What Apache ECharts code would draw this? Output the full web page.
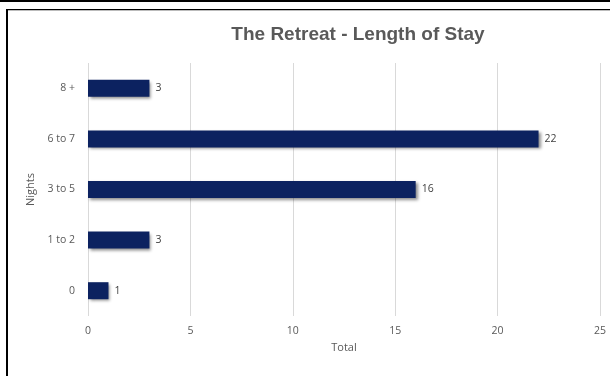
<!DOCTYPE html>
<html><head><meta charset="utf-8">
<script src="https://cdn.jsdelivr.net/npm/echarts@6/dist/echarts.min.js"></script>
<style>html,body{margin:0;padding:0;background:#fff}#c{width:610px;height:376px}</style>
</head><body><div id="c"></div>
<script>
var categories = ['0', '1 to 2', '3 to 5', '6 to 7', '8 +'];
var values = [1, 3, 16, 22, 3];
var xTicks = [0, 5, 10, 15, 20, 25];
var titleText = 'The Retreat - Length of Stay';
var xName = 'Total';
var yName = 'Nights';

var chart = echarts.init(document.getElementById('c'));
chart.setOption({
  animation: false,
  backgroundColor: '#fff',
  title: {
    text: titleText, left: 353, top: 20, textAlign: 'center',
    textStyle: {fontFamily: 'Liberation Sans', fontWeight: 'bold', fontSize: 19, color: '#595959'}
  },
  graphic: [
    {type: 'rect', shape: {x: 0, y: 0, width: 610, height: 2}, style: {fill: '#000'}},
    {type: 'rect', shape: {x: 6, y: 9, width: 604, height: 1}, style: {fill: '#000'}},
    {type: 'rect', shape: {x: 6, y: 10, width: 604, height: 1}, style: {fill: '#bbb'}},
    {type: 'rect', shape: {x: 6, y: 9, width: 2, height: 367}, style: {fill: '#000'}}
  ],
  grid: {left: 88, right: 10, top: 63, bottom: 60, containLabel: false},
  xAxis: {
    type: 'value', min: 0, max: 25, interval: 5,
    name: xName, nameLocation: 'middle', nameGap: 24,
    nameTextStyle: {fontFamily: 'Open Sans', fontSize: 11, color: '#595959'},
    axisLine: {show: false}, axisTick: {show: false},
    axisLabel: {fontFamily: 'Open Sans', fontSize: 10.5, color: '#595959', margin: 10,
      formatter: function (v) { return xTicks.indexOf(v) >= 0 ? String(v) : ''; }},
    splitLine: {show: true, lineStyle: {color: '#d9d9d9', width: 1}}
  },
  yAxis: {
    type: 'category', data: categories,
    name: yName, nameLocation: 'middle', nameGap: 49, nameRotate: 90,
    nameTextStyle: {fontFamily: 'Open Sans', fontSize: 11, color: '#595959'},
    axisLine: {show: false}, axisTick: {show: false},
    axisLabel: {fontFamily: 'Open Sans', fontSize: 10.5, color: '#595959', margin: 13}
  },
  series: [{
    type: 'bar', data: values, barWidth: 17,
    itemStyle: {color: '#0c2260', shadowColor: 'rgba(0,0,0,0.45)', shadowBlur: 3, shadowOffsetX: 2, shadowOffsetY: 2},
    label: {show: true, position: 'right', distance: 6, fontFamily: 'Open Sans', fontSize: 10.5, color: '#404040'}
  }]
});
</script></body></html>
